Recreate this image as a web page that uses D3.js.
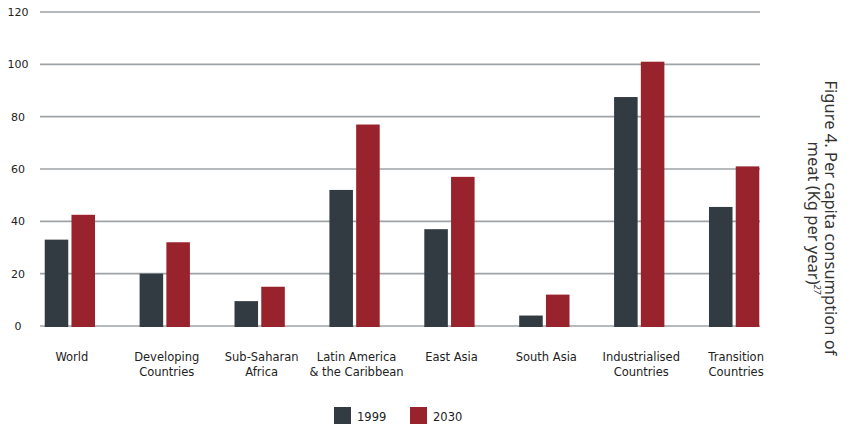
<!DOCTYPE html>
<html>
<head>
<meta charset="utf-8">
<script src="https://cdn.jsdelivr.net/npm/d3@7"></script>
<style>
  body { margin: 0; background: #fff; }
  svg { display: block; }
</style>
</head>
<body>
<div id="wrapper"></div>
<script>
const regions = [
    ["World"],
    ["Developing", "Countries"],
    ["Sub-Saharan", "Africa"],
    ["Latin America", "& the Caribbean"],
    ["East Asia"],
    ["South Asia"],
    ["Industrialised", "Countries"],
    ["Transition", "Countries"]
];
const years = ["1999", "2030"];
const values1999 = [33, 20, 9.5, 52, 37, 4, 87.5, 45.5];
const values2030 = [42.5, 32, 15, 77, 57, 12, 101, 61];
const yTicks = [0, 20, 40, 60, 80, 100, 120];
const titleLines = ["Figure 4. Per capita consumption of", "meat (Kg per year)"];

const colors = { "1999": "#323b41", "2030": "#98232c" };

function buildPlot() {
    const dimension = {
        width: 849,
        height: 424,
        margin: { top: 12, left: 22, bottom: 98, right: 67 }
    };
    dimension.boundedWidth = dimension.width - dimension.margin.left - dimension.margin.right;
    dimension.boundedHeight = dimension.height - dimension.margin.top - dimension.margin.bottom;

    const svg = d3.select("#wrapper").append("svg")
        .attr("width", dimension.width)
        .attr("height", dimension.height);

    const bounded = svg.append("g")
        .attr("transform", `translate(${dimension.margin.left},${dimension.margin.top})`);

    const rows = regions.map((r, i) => ({ label: r, v: [values1999[i], values2030[i]] }));

    const xScaler = d3.scaleBand()
        .domain(d3.range(regions.length))
        .range([-1, 95 * regions.length + 1])
        .paddingInner(0.47)
        .paddingOuter(0.25);

    const xInner = d3.scaleBand()
        .domain(years)
        .range([0, xScaler.bandwidth()])
        .paddingInner(0.12);

    const yScaler = d3.scaleLinear()
        .domain([0, 120])
        .range([dimension.boundedHeight, 0]);

    // gridlines
    bounded.append("g")
        .selectAll("line")
        .data(yTicks)
        .join("line")
        .attr("x1", 18)
        .attr("x2", 738)
        .attr("y1", d => yScaler(d))
        .attr("y2", d => yScaler(d))
        .attr("stroke", "#9ea3a7")
        .attr("stroke-width", 1.6);

    // y labels
    const yAxis = d3.axisLeft(yScaler).tickValues(yTicks).tickSize(0).tickPadding(0);
    const gy = bounded.append("g").call(yAxis);
    gy.select(".domain").remove();
    gy.selectAll("text")
        .attr("x", -4)
        .attr("text-anchor", "middle")
        .attr("dy", "0.32em")
        .style("font-family", "'DejaVu Sans', Verdana, sans-serif")
        .style("font-size", "11px")
        .attr("fill", "#222");

    // bars
    const groups = bounded.append("g")
        .selectAll("g")
        .data(rows)
        .join("g")
        .attr("transform", (d, i) => `translate(${xScaler(i)},0)`);

    groups.selectAll("rect")
        .data(d => d.v.map((v, j) => ({ year: years[j], value: v })))
        .join("rect")
        .attr("x", d => xInner(d.year))
        .attr("width", xInner.bandwidth())
        .attr("y", d => yScaler(d.value))
        .attr("height", d => yScaler(0) - yScaler(d.value) + 1)
        .attr("fill", d => colors[d.year]);

    // category labels
    const labels = bounded.append("g")
        .selectAll("text")
        .data(rows)
        .join("text")
        .attr("x", (d, i) => xScaler(i) + xScaler.bandwidth() / 2 + 2)
        .attr("y", 349)
        .attr("text-anchor", "middle")
        .style("font-family", "'DejaVu Sans', Verdana, sans-serif")
        .style("font-size", "11.5px")
        .attr("fill", "#222");
    labels.selectAll("tspan")
        .data(d => d.label)
        .join("tspan")
        .attr("x", function () { return d3.select(this.parentNode).attr("x"); })
        .attr("dy", (d, i) => i === 0 ? 0 : 14.5)
        .text(d => d);

    // legend
    const legend = svg.append("g").attr("transform", "translate(334,407)");
    const items = legend.selectAll("g")
        .data(years)
        .join("g")
        .attr("transform", (d, i) => `translate(${i * 76},0)`);
    items.append("rect")
        .attr("width", 17)
        .attr("height", 17)
        .attr("fill", d => colors[d]);
    items.append("text")
        .attr("x", 23)
        .attr("y", 14)
        .style("font-family", "'DejaVu Sans', Verdana, sans-serif")
        .style("font-size", "11.5px")
        .attr("fill", "#222")
        .text(d => d);

    // rotated title
    const title = svg.append("text")
        .attr("transform", "translate(825,218) rotate(90)")
        .attr("text-anchor", "middle")
        .style("font-family", "'Noto Sans', sans-serif")
        .style("font-size", "16.5px")
        .attr("fill", "#333");
    title.append("tspan")
        .attr("x", 0).attr("y", 0)
        .text(titleLines[0]);
    const line2 = title.append("tspan")
        .attr("x", 0).attr("y", 17);
    line2.append("tspan").text(titleLines[1]);
    line2.append("tspan")
        .attr("dy", -6)
        .style("font-size", "9px")
        .style("font-style", "italic")
        .text("27");
}

buildPlot();
</script>
</body>
</html>
